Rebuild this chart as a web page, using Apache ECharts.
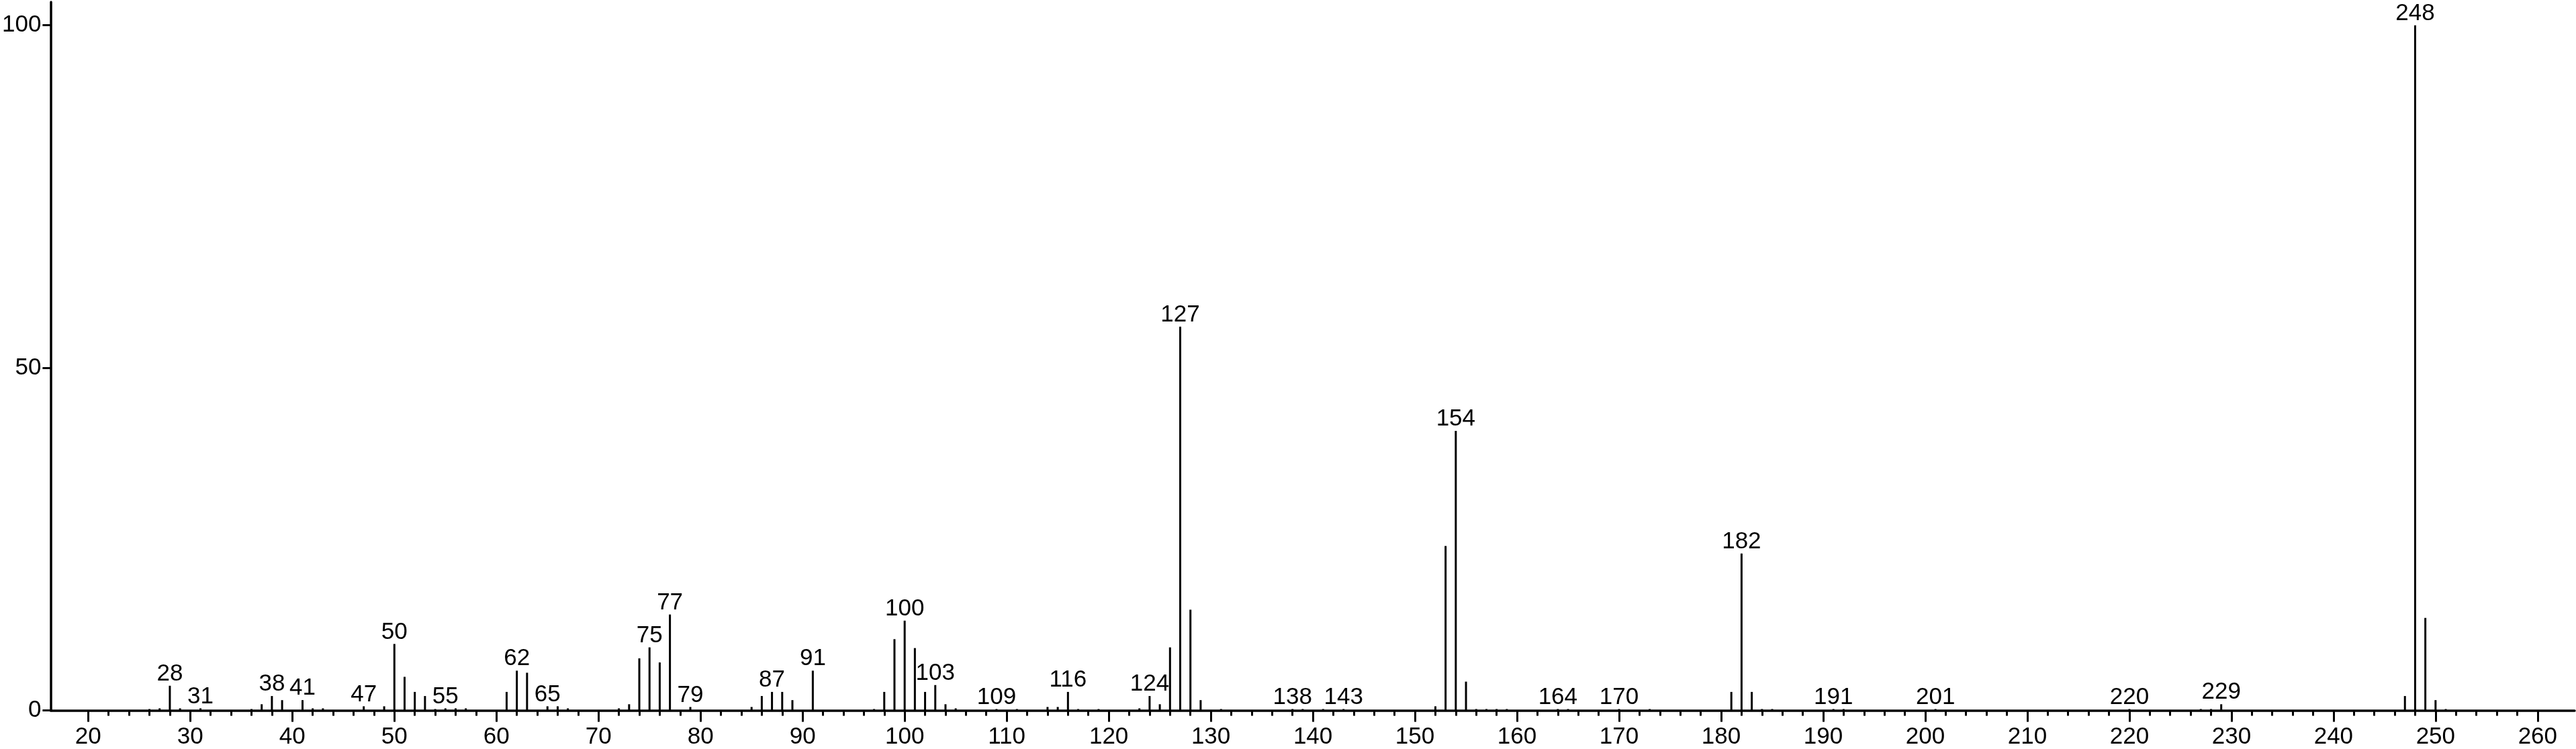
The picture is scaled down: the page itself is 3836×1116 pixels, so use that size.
<!DOCTYPE html>
<html>
<head>
<meta charset="utf-8">
<script src="https://cdn.jsdelivr.net/npm/echarts@6/dist/echarts.min.js"></script>
<style>
html,body{margin:0;padding:0;background:#fff;}
#chart{width:3836px;height:1116px;}
</style>
</head>
<body>
<div id="chart"></div>
<script>
const mzValues = [26,27,28,29,31,36,37,38,39,41,42,43,47,49,50,51,52,53,54,55,56,57,61,62,63,65,66,67,72,73,74,75,76,77,79,85,86,87,88,89,91,97,98,99,100,101,102,103,104,105,109,111,114,115,116,117,119,123,124,125,126,127,128,129,131,138,139,141,143,152,153,154,155,156,157,158,159,164,165,170,173,181,182,183,184,185,191,192,201,220,227,228,229,247,248,249,250,251];
const intensities = [0.2,0.3,3.6,0.3,0.3,0.2,0.9,2.1,1.5,1.5,0.3,0.3,0.6,0.6,9.7,4.9,2.7,2.1,0.2,0.3,0.3,0.3,2.7,5.8,5.5,0.6,0.6,0.3,0.3,0.9,7.6,9.2,7.0,14.0,0.5,0.5,2.1,2.7,2.7,1.5,5.8,0.2,2.7,10.4,13.1,9.1,2.7,3.7,0.9,0.3,0.2,0.2,0.5,0.5,2.7,0.2,0.2,0.3,2.1,0.9,9.2,56.0,14.7,1.5,0.2,0.2,0.2,0.2,0.2,0.6,24.0,40.8,4.2,0.2,0.2,0.2,0.2,0.2,0.2,0.2,0.2,2.7,22.9,2.7,0.2,0.2,0.2,0.2,0.2,0.2,0.2,0.2,0.9,2.1,100,13.5,1.5,0.2];
const labelledPeaks = [28,31,38,41,47,50,55,62,65,75,77,79,87,91,100,103,109,116,124,127,138,143,154,164,170,182,191,201,220,229,248];
const xMajorTicks = [20,30,40,50,60,70,80,90,100,110,120,130,140,150,160,170,180,190,200,210,220,230,240,250,260];
const xMinorTicks = [];
for (let v = 22; v < 260; v += 2) { if (v % 10 !== 0) xMinorTicks.push(v); }
const yTicks = [0,50,100];

const FONT = "'Liberation Sans', Arial, sans-serif";
const chart = echarts.init(document.getElementById('chart'), null, {renderer:'canvas'});

const barData = mzValues.map((m, i) => {
  const item = { value: [m, intensities[i]] };
  if (labelledPeaks.indexOf(m) >= 0) {
    item.label = { show: true };
  }
  return item;
});

chart.setOption({
  animation: false,
  backgroundColor: '#ffffff',
  grid: { left: 70, right: 2, top: 3, bottom: 57.5, containLabel: false },
  xAxis: [{
    type: 'value', min: 16.32, max: 263.63,
    axisLine: { show: true, lineStyle: { color: '#000', width: 3.5 } },
    axisTick: { show: true, customValues: xMajorTicks, length: 17, lineStyle: { color: '#000', width: 3 } },
    axisLabel: { show: true, customValues: xMajorTicks, margin: 22, color: '#000', fontSize: 35, fontFamily: FONT },
    splitLine: { show: false }
  }, {
    type: 'value', min: 16.32, max: 263.63, position: 'bottom',
    axisLine: { show: false },
    axisTick: { show: true, customValues: xMinorTicks, length: 8, lineStyle: { color: '#000', width: 3 } },
    axisLabel: { show: false },
    splitLine: { show: false }
  }],
  yAxis: {
    type: 'value', min: 0, max: 103.4,
    axisLine: { show: true, lineStyle: { color: '#000', width: 3.5 } },
    axisTick: { show: true, customValues: yTicks, length: 12, lineStyle: { color: '#000', width: 3 } },
    axisLabel: { show: true, customValues: yTicks, margin: 14, color: '#000', fontSize: 35, fontFamily: FONT },
    splitLine: { show: false }
  },
  series: [{
    type: 'bar',
    xAxisIndex: 0,
    barWidth: 3,
    itemStyle: { color: '#000' },
    label: {
      show: false, position: 'top', distance: 0,
      color: '#000', fontSize: 35, fontFamily: FONT,
      formatter: p => String(p.value[0])
    },
    data: barData
  }]
});
</script>
</body>
</html>
